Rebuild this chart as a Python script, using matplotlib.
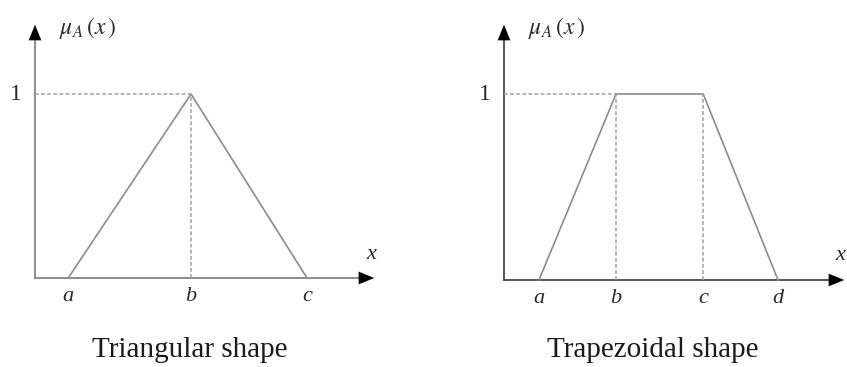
import matplotlib
matplotlib.use("Agg")
import matplotlib.pyplot as plt

plt.rcParams['font.family'] = ['Liberation Serif', 'DejaVu Serif']
plt.rcParams['mathtext.fontset'] = 'stix'

W, H = 847, 367

# Triangular membership function (x positions of a, b, c)
tri_labels = ['a', 'b', 'c']
tri_x = [0.83, 3.9, 6.8]
tri_mu = [0, 1, 0]

# Trapezoidal membership function (x positions of a, b, c, d)
trap_labels = ['a', 'b', 'c', 'd']
trap_x = [0.875, 2.8, 4.98, 6.85]
trap_mu = [0, 1, 1, 0]

titles = ['Triangular shape', 'Trapezoidal shape']

fig = plt.figure(figsize=(W / 100, H / 100), dpi=100)
fig.patch.set_facecolor('white')


def panel(origin, unit_px, xmax, one_px, xs, mus, labels, title, title_x,
          axis_color, x_label_pos):
    ox, oy = origin
    ax = fig.add_axes([ox / W, (H - oy) / H, xmax * unit_px / W, one_px / H])
    ax.set_xlim(0, xmax)
    ax.set_ylim(0, 1)
    ax.axis('off')
    ytop = (oy - 22) / one_px

    # axes with arrows
    ax.plot([0, xmax - 0.3], [0, 0], color=axis_color, lw=1.2, clip_on=False)
    ax.plot([0, 0], [0, ytop - 0.06], color=axis_color, lw=1.2, clip_on=False)
    ax.annotate('', xy=(xmax, 0), xytext=(xmax - 0.4, 0),
                arrowprops=dict(arrowstyle='-|>,head_length=1.1,head_width=0.45',
                                color='black', lw=0.1), annotation_clip=False)
    ax.annotate('', xy=(0, ytop), xytext=(0, ytop - 0.08),
                arrowprops=dict(arrowstyle='-|>,head_length=1.1,head_width=0.45',
                                color='black', lw=0.1), annotation_clip=False)

    # membership shape
    ax.plot(xs, mus, color='#8c8c8c', lw=1.2, clip_on=False)

    # dashed guides
    top = [x for x, m in zip(xs, mus) if m == 1]
    ax.plot([0, top[0]], [1, 1], color='#a0a0a0', lw=1.1,
            ls=(0, (2.5, 1.5)), clip_on=False)
    for x in top:
        ax.plot([x, x], [0, 1], color='#a0a0a0', lw=1.1,
                ls=(0, (2.5, 1.5)), clip_on=False)

    for x, lab in zip(xs, labels):
        ax.text(x, -0.1, lab, ha='center', va='center', fontsize=16,
                style='italic', color='#2a2a2a')
    ax.text(-0.48, 1, '1', ha='center', va='center', fontsize=17,
            color='#2a2a2a')
    ax.text(0.6, ytop - 0.03, r'$\mu_A\,(x\,)$', ha='left', va='center',
            fontsize=17, color='#2a2a2a')
    ax.text(x_label_pos[0], x_label_pos[1], 'x', ha='center', va='center',
            fontsize=16, style='italic', color='#2a2a2a')
    fig.text(title_x / W, 1 - 350 / H, title, ha='center', va='center',
             fontsize=21, color='#1a1a1a')


panel((35, 278), 40, 8.55, 184, tri_x, tri_mu, tri_labels, titles[0], 190,
      '#7a7a7a', (8.4, 0.13))
panel((504, 280), 40, 8.575, 186, trap_x, trap_mu, trap_labels, titles[1], 653,
      '#3a3a3a', (8.4, 0.13))

fig.savefig('out.png', dpi=100, facecolor='white')
